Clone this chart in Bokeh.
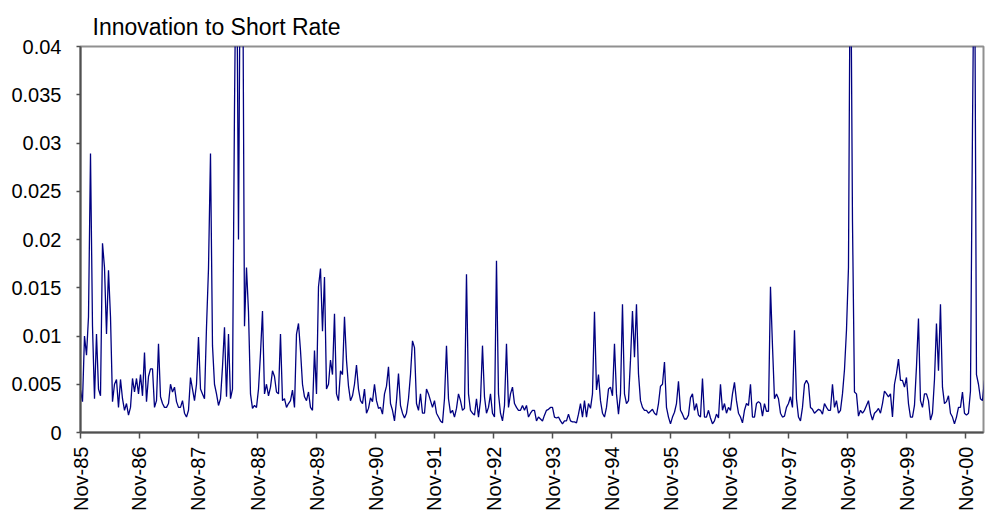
import math
import pandas as pd
from bokeh.plotting import figure
from bokeh.models import (ColumnDataSource, FixedTicker, DatetimeTickFormatter,
                          NumeralTickFormatter, Range1d)
from bokeh.embed import file_html
from bokeh.resources import INLINE

# Innovation to short rate (values above 0.04 are clipped in the chart)
innov_nov85_jul87 = [
    0.0044, 0.0032, 0.0100, 0.0080, 0.0120, 0.0289, 0.0110, 0.0035, 0.0102, 0.0045,
    0.0038, 0.0196, 0.0171, 0.0102, 0.0168, 0.0120, 0.0032, 0.0050, 0.0055, 0.0026,
    0.0055, 0.0035, 0.0023, 0.0030, 0.0018, 0.0026, 0.0056, 0.0042, 0.0056, 0.0040,
    0.0060, 0.0038, 0.0083, 0.0032, 0.0058, 0.0066, 0.0066, 0.0026, 0.0033, 0.0092,
    0.0037, 0.0030, 0.0026, 0.0026, 0.0030, 0.0050, 0.0042, 0.0047, 0.0032, 0.0026]
innov_jul87_jun89 = [
    0.0026, 0.0033, 0.0020, 0.0016, 0.0023, 0.0057, 0.0045, 0.0033, 0.0050, 0.0099,
    0.0045, 0.0040, 0.0035, 0.0109, 0.0170, 0.0289, 0.0090, 0.0050, 0.0040, 0.0028,
    0.0035, 0.0068, 0.0109, 0.0037, 0.0102, 0.0035, 0.0045, 0.0337, 0.0550, 0.0200,
    0.0550, 0.0550, 0.0110, 0.0171, 0.0125, 0.0040, 0.0025, 0.0028, 0.0026, 0.0045,
    0.0082, 0.0126, 0.0040, 0.0050, 0.0038, 0.0047, 0.0064, 0.0058, 0.0042, 0.0040,
    0.0102, 0.0033, 0.0035, 0.0026, 0.0030]
innov_jun89_may91 = [
    0.0033, 0.0044, 0.0026, 0.0102, 0.0113, 0.0085, 0.0050, 0.0037, 0.0033, 0.0042,
    0.0026, 0.0023, 0.0085, 0.0040, 0.0151, 0.0170, 0.0105, 0.0161, 0.0045, 0.0050,
    0.0075, 0.0060, 0.0123, 0.0040, 0.0033, 0.0064, 0.0060, 0.0120, 0.0075, 0.0048,
    0.0033, 0.0038, 0.0050, 0.0070, 0.0045, 0.0033, 0.0030, 0.0045, 0.0020, 0.0025,
    0.0036, 0.0032, 0.0050, 0.0033, 0.0025, 0.0026, 0.0019, 0.0040, 0.0048, 0.0068,
    0.0030, 0.0023, 0.0012, 0.0033, 0.0061]
innov_may91_apr93 = [
    0.0028, 0.0020, 0.0015, 0.0020, 0.0035, 0.0060, 0.0095, 0.0088, 0.0030, 0.0023,
    0.0040, 0.0020, 0.0020, 0.0045, 0.0040, 0.0033, 0.0026, 0.0033, 0.0020, 0.0016,
    0.0012, 0.0010, 0.0035, 0.0090, 0.0035, 0.0020, 0.0023, 0.0016, 0.0025, 0.0040,
    0.0033, 0.0023, 0.0025, 0.0164, 0.0040, 0.0023, 0.0020, 0.0018, 0.0035, 0.0016,
    0.0033, 0.0090, 0.0037, 0.0020, 0.0026, 0.0040, 0.0020, 0.0016, 0.0178, 0.0040,
    0.0020, 0.0012, 0.0028, 0.0092, 0.0026]
innov_apr93_apr95 = [
    0.0040, 0.0047, 0.0030, 0.0026, 0.0023, 0.0023, 0.0028, 0.0023, 0.0028, 0.0016,
    0.0020, 0.0023, 0.0023, 0.0012, 0.0016, 0.0014, 0.0012, 0.0018, 0.0023, 0.0024,
    0.0026, 0.0026, 0.0016, 0.0015, 0.0016, 0.0012, 0.0009, 0.0012, 0.0012, 0.0019,
    0.0012, 0.0011, 0.0011, 0.0010, 0.0019, 0.0030, 0.0016, 0.0033, 0.0016, 0.0030,
    0.0025, 0.0040, 0.0125, 0.0044, 0.0060, 0.0033, 0.0020, 0.0016, 0.0026, 0.0045,
    0.0047]
innov_apr95_mar97 = [
    0.0038, 0.0092, 0.0040, 0.0019, 0.0040, 0.0133, 0.0040, 0.0030, 0.0033, 0.0075,
    0.0126, 0.0078, 0.0133, 0.0061, 0.0033, 0.0026, 0.0023, 0.0023, 0.0020, 0.0022,
    0.0024, 0.0020, 0.0018, 0.0030, 0.0048, 0.0050, 0.0073, 0.0026, 0.0016, 0.0009,
    0.0016, 0.0021, 0.0030, 0.0053, 0.0023, 0.0019, 0.0014, 0.0014, 0.0018, 0.0036,
    0.0040, 0.0023, 0.0030, 0.0018, 0.0016, 0.0056, 0.0016, 0.0016, 0.0023, 0.0015,
    0.0009, 0.0012, 0.0019, 0.0015]
innov_mar97_feb99 = [
    0.0050, 0.0023, 0.0030, 0.0020, 0.0026, 0.0023, 0.0040, 0.0052, 0.0033, 0.0020,
    0.0016, 0.0010, 0.0023, 0.0030, 0.0028, 0.0050, 0.0016, 0.0016, 0.0030, 0.0032,
    0.0030, 0.0017, 0.0030, 0.0022, 0.0022, 0.0151, 0.0090, 0.0035, 0.0040, 0.0035,
    0.0020, 0.0016, 0.0017, 0.0026, 0.0030, 0.0037, 0.0026, 0.0106, 0.0035, 0.0016,
    0.0012, 0.0026, 0.0050, 0.0054, 0.0050, 0.0026, 0.0024, 0.0020, 0.0022, 0.0024,
    0.0023, 0.0019, 0.0030, 0.0026, 0.0023]
innov_feb99_feb01 = [
    0.0023, 0.0050, 0.0026, 0.0033, 0.0020, 0.0023, 0.0040, 0.0065, 0.0106, 0.0171,
    0.0550, 0.0220, 0.0042, 0.0040, 0.0017, 0.0023, 0.0020, 0.0023, 0.0028, 0.0033,
    0.0020, 0.0013, 0.0020, 0.0022, 0.0025, 0.0020, 0.0030, 0.0043, 0.0040, 0.0037,
    0.0040, 0.0016, 0.0050, 0.0061, 0.0076, 0.0054, 0.0054, 0.0047, 0.0057, 0.0030,
    0.0016, 0.0016, 0.0028, 0.0068, 0.0118, 0.0033, 0.0026, 0.0040, 0.0040, 0.0033,
    0.0013, 0.0020, 0.0055, 0.0113, 0.0064, 0.0133, 0.0047, 0.0030, 0.0032, 0.0038,
    0.0020, 0.0016, 0.0009, 0.0016, 0.0026, 0.0026, 0.0042, 0.0020, 0.0018, 0.0020,
    0.0043, 0.0313, 0.0550, 0.0060, 0.0050, 0.0035, 0.0033, 0.0054]

first_obs = "1985-11-01"
last_obs = "2001-02-25"
axis_end = "2001-02-19"

tick_dates = ["1985-11-01", "1986-11-01", "1987-11-01", "1988-11-01", "1989-11-01",
              "1990-11-01", "1991-11-01", "1992-11-01", "1993-11-01", "1994-11-01",
              "1995-11-01", "1996-11-01", "1997-11-01", "1998-11-01", "1999-11-01",
              "2000-11-01"]
y_ticks = [0, 0.005, 0.01, 0.015, 0.02, 0.025, 0.03, 0.035, 0.04]

values = (innov_nov85_jul87 + innov_jul87_jun89 + innov_jun89_may91 + innov_may91_apr93
          + innov_apr93_apr95 + innov_apr95_mar97 + innov_mar97_feb99 + innov_feb99_feb01)
dates = pd.date_range(first_obs, last_obs, periods=len(values))
source = ColumnDataSource(data=dict(date=dates, value=values))

FONT = "Liberation Sans"

p = figure(width=985, height=523, x_axis_type="datetime",
           output_backend="svg", toolbar_location=None,
           x_range=Range1d(pd.Timestamp(first_obs).to_pydatetime(),
                           pd.Timestamp(axis_end).to_pydatetime()),
           y_range=Range1d(0, 0.04),
           min_border_left=80, min_border_right=2, min_border_top=46,
           min_border_bottom=91)

p.line(x="date", y="value", source=source, line_color="#000080", line_width=1.3)

p.title.text = "Innovation to Short Rate"
p.title.text_font = FONT
p.title.text_font_size = "23px"
p.title.text_font_style = "normal"
p.title.text_color = "black"
p.title.align = "left"
p.title.vertical_align = "top"
p.title.offset = 12
p.title.standoff = 10

p.grid.visible = False
p.background_fill_color = "white"
p.border_fill_color = "white"
p.outline_line_color = "#909090"
p.outline_line_width = 2

tick_ms = [pd.Timestamp(d).value / 1e6 for d in tick_dates]
p.xaxis.ticker = FixedTicker(ticks=tick_ms)
fmt = "%b-%y"
p.xaxis.formatter = DatetimeTickFormatter(years=fmt, months=fmt, days=fmt, hours=fmt,
                                          hourmin=fmt, minutes=fmt, minsec=fmt,
                                          seconds=fmt, milliseconds=fmt,
                                          microseconds=fmt)
p.xaxis.major_label_orientation = math.pi / 2
p.xaxis.minor_tick_line_color = None
p.xaxis.major_tick_in = 0
p.xaxis.major_tick_out = 6
p.xaxis.major_label_standoff = 8

p.yaxis.ticker = FixedTicker(ticks=y_ticks)
p.yaxis.formatter = NumeralTickFormatter(format="0.[000]")
p.yaxis.minor_tick_line_color = None
p.yaxis.major_tick_in = 0
p.yaxis.major_tick_out = 4
p.yaxis.major_label_standoff = 15

for ax in (p.xaxis, p.yaxis):
    ax.axis_line_color = "#505050"
    ax.axis_line_width = 2
    ax.major_tick_line_color = "#505050"
    ax.major_tick_line_width = 1.5
    ax.major_label_text_font = FONT
    ax.major_label_text_font_size = "20px"
    ax.major_label_text_color = "black"

open("out.html", "w").write(file_html(p, INLINE))
